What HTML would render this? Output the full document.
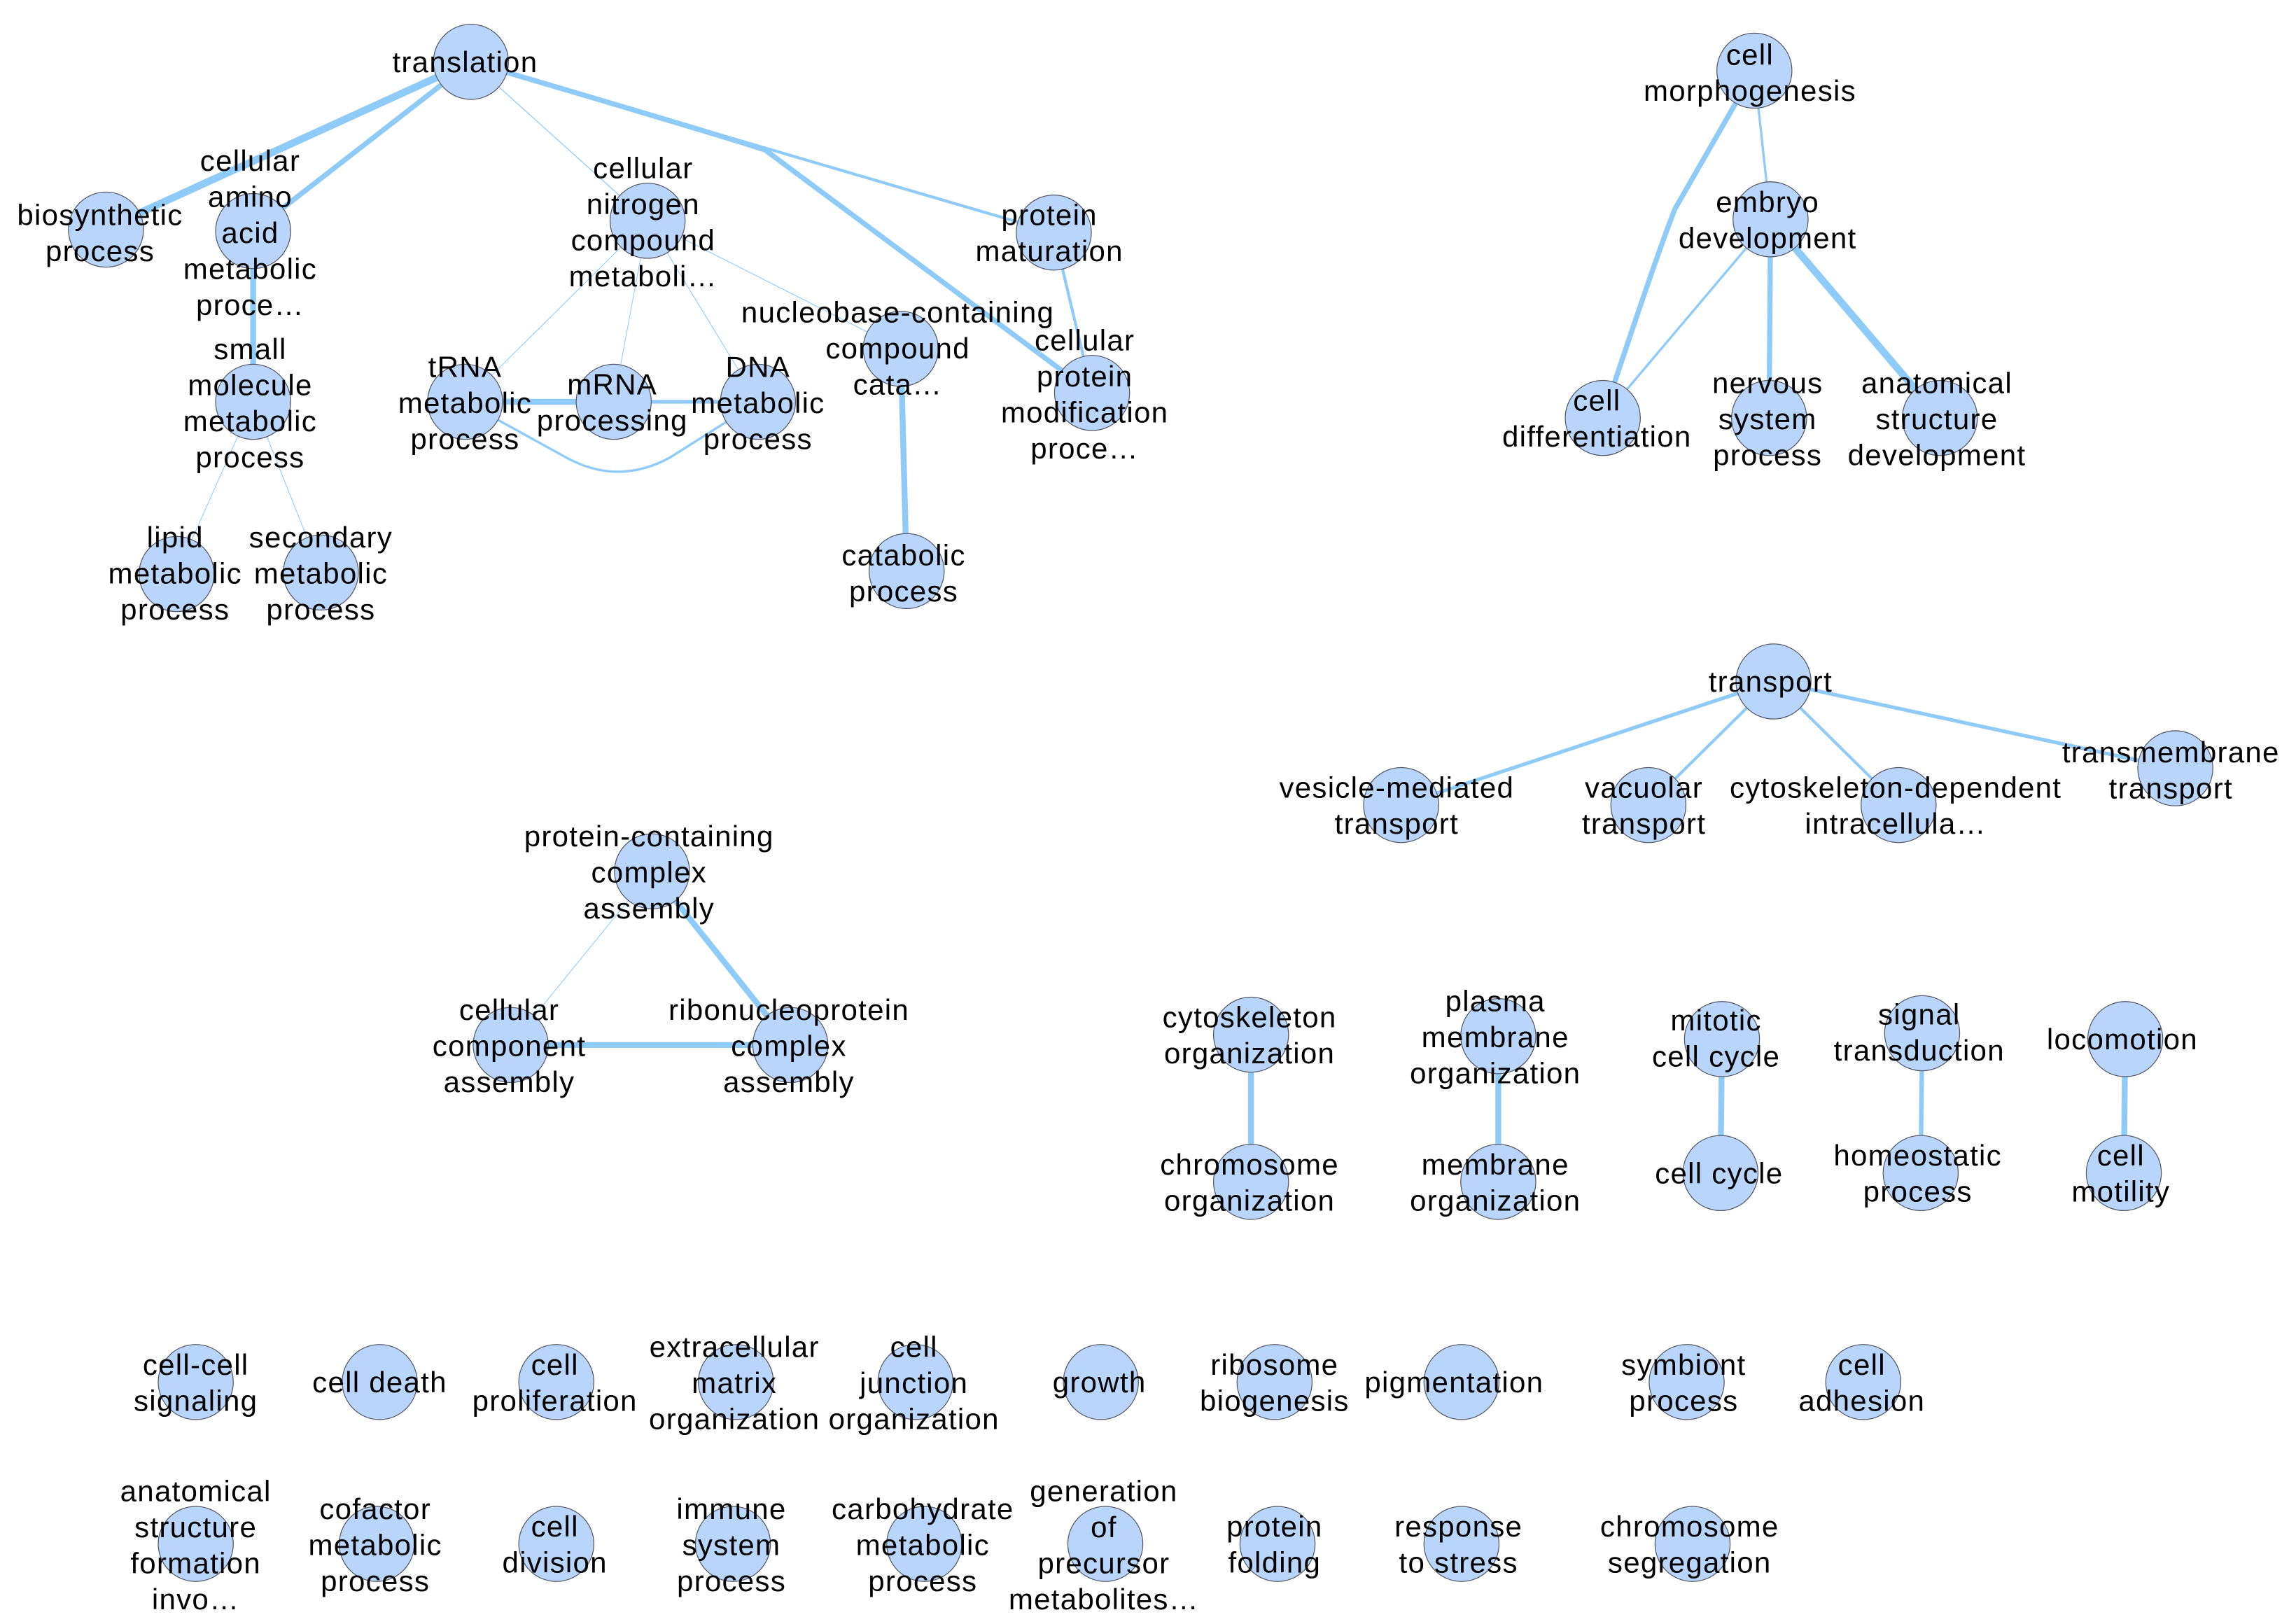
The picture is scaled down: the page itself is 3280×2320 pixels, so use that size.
<!DOCTYPE html>
<html><head><meta charset="utf-8"><style>
html,body{margin:0;padding:0;background:#fff;}
svg{display:block;}
text{font-family:"Liberation Sans",sans-serif;font-size:20px;fill:#000;text-anchor:middle;letter-spacing:0.6px;}
.n{fill:#b9d5fb;stroke:#555a66;stroke-width:0.6;}
.e{stroke:#8ecbf8;fill:none;stroke-linecap:round;}
</style></head><body>
<svg width="3280" height="2320" viewBox="0 0 1560 1103.4" xmlns="http://www.w3.org/2000/svg">
<g class="e">
<line x1="320" y1="42" x2="70" y2="156" stroke-width="5"/>
<line x1="320" y1="42" x2="172" y2="157" stroke-width="3.5"/>
<line x1="320" y1="42" x2="440" y2="150" stroke-width="0.6"/>
<path d="M320 42 Q500 95 520 102 L742 267" stroke-width="3.5"/>
<line x1="320" y1="42" x2="716" y2="158" stroke-width="2"/>
<line x1="716" y1="158" x2="742" y2="267" stroke-width="2"/>
<line x1="172" y1="157" x2="172" y2="273" stroke-width="4"/>
<line x1="172" y1="273" x2="120" y2="390" stroke-width="0.5"/>
<line x1="172" y1="273" x2="218" y2="389" stroke-width="0.5"/>
<line x1="440" y1="150" x2="316" y2="273" stroke-width="0.5"/>
<line x1="440" y1="150" x2="417" y2="273" stroke-width="0.5"/>
<line x1="440" y1="150" x2="515" y2="273" stroke-width="0.5"/>
<line x1="440" y1="150" x2="612" y2="237" stroke-width="0.5"/>
<line x1="316" y1="273" x2="417" y2="273" stroke-width="4"/>
<line x1="417" y1="273" x2="515" y2="273" stroke-width="2.5"/>
<path d="M316 273 L385 311 Q420 330 455 311 L515 273" stroke-width="1.6"/>
<line x1="612" y1="237" x2="616" y2="388" stroke-width="4"/>
<path d="M1192 48 L1138 142 Q1125 175 1089 284" stroke-width="3.5"/>
<line x1="1192" y1="48" x2="1203" y2="149" stroke-width="1.6"/>
<line x1="1203" y1="149" x2="1089" y2="284" stroke-width="1.6"/>
<line x1="1203" y1="149" x2="1202" y2="284" stroke-width="3.5"/>
<line x1="1203" y1="149" x2="1318" y2="284" stroke-width="5"/>
<line x1="1205" y1="463" x2="952" y2="547" stroke-width="2.5"/>
<line x1="1205" y1="463" x2="1120" y2="547" stroke-width="2"/>
<line x1="1205" y1="463" x2="1290" y2="547" stroke-width="2"/>
<line x1="1205" y1="463" x2="1478" y2="522" stroke-width="2.5"/>
<line x1="443" y1="592" x2="347" y2="710" stroke-width="0.5"/>
<line x1="443" y1="592" x2="537" y2="710" stroke-width="4"/>
<line x1="347" y1="710" x2="537" y2="710" stroke-width="4"/>
<line x1="850" y1="703" x2="850" y2="803" stroke-width="4"/>
<line x1="1018" y1="704" x2="1018" y2="803" stroke-width="4"/>
<line x1="1170" y1="706" x2="1169" y2="797" stroke-width="4"/>
<line x1="1306" y1="702" x2="1305" y2="797" stroke-width="3"/>
<line x1="1444" y1="706" x2="1443" y2="797" stroke-width="4"/>
</g>
<g class="n">
<circle cx="320" cy="42" r="25.5"/><circle cx="72" cy="156" r="25.5"/><circle cx="172" cy="157" r="25.5"/>
<circle cx="172" cy="273" r="25.5"/><circle cx="120" cy="390" r="25.5"/><circle cx="218" cy="389" r="25.5"/>
<circle cx="440" cy="150" r="25.5"/><circle cx="316" cy="273" r="25.5"/><circle cx="417" cy="273" r="25.5"/>
<circle cx="515" cy="273" r="25.5"/><circle cx="612" cy="237" r="25.5"/><circle cx="616" cy="388" r="25.5"/>
<circle cx="716" cy="158" r="25.5"/><circle cx="742" cy="267" r="25.5"/>
<circle cx="1192" cy="48" r="25.5"/><circle cx="1203" cy="149" r="25.5"/><circle cx="1089" cy="284" r="25.5"/>
<circle cx="1202" cy="284" r="25.5"/><circle cx="1318" cy="284" r="25.5"/>
<circle cx="1205" cy="463" r="25.5"/><circle cx="952" cy="547" r="25.5"/><circle cx="1120" cy="547" r="25.5"/>
<circle cx="1290" cy="547" r="25.5"/><circle cx="1478" cy="522" r="25.5"/>
<circle cx="443" cy="592" r="25.5"/><circle cx="347" cy="710" r="25.5"/><circle cx="537" cy="710" r="25.5"/>
<circle cx="850" cy="703" r="25.5"/><circle cx="850" cy="803" r="25.5"/><circle cx="1018" cy="704" r="25.5"/>
<circle cx="1018" cy="803" r="25.5"/><circle cx="1170" cy="706" r="25.5"/><circle cx="1169" cy="797" r="25.5"/>
<circle cx="1306" cy="702" r="25.5"/><circle cx="1305" cy="797" r="25.5"/><circle cx="1444" cy="706" r="25.5"/>
<circle cx="1443" cy="797" r="25.5"/>
<circle cx="133" cy="939" r="25.5"/><circle cx="258" cy="939" r="25.5"/><circle cx="378" cy="939" r="25.5"/>
<circle cx="500" cy="939" r="25.5"/><circle cx="622" cy="939" r="25.5"/><circle cx="748" cy="939" r="25.5"/>
<circle cx="866" cy="939" r="25.5"/><circle cx="993" cy="939" r="25.5"/><circle cx="1146" cy="939" r="25.5"/>
<circle cx="1266" cy="939" r="25.5"/>
<circle cx="133" cy="1049" r="25.5"/><circle cx="256" cy="1049" r="25.5"/><circle cx="378" cy="1049" r="25.5"/>
<circle cx="498" cy="1049" r="25.5"/><circle cx="628" cy="1049" r="25.5"/><circle cx="751" cy="1049" r="25.5"/>
<circle cx="868" cy="1049" r="25.5"/><circle cx="993" cy="1049" r="25.5"/><circle cx="1150" cy="1049" r="25.5"/>
</g>
<g>
<text x="316" y="49">translation</text>
<text x="68" y="153">biosynthetic<tspan x="68" dy="24.5">process</tspan></text>
<text x="170" y="116">cellular<tspan x="170" dy="24.5">amino</tspan><tspan x="170" dy="24.5">acid</tspan><tspan x="170" dy="24.5">metabolic</tspan><tspan x="170" dy="24.5">proce…</tspan></text>
<text x="170" y="244">small<tspan x="170" dy="24.5">molecule</tspan><tspan x="170" dy="24.5">metabolic</tspan><tspan x="170" dy="24.5">process</tspan></text>
<text x="119" y="372">lipid<tspan x="119" dy="24.5">metabolic</tspan><tspan x="119" dy="24.5">process</tspan></text>
<text x="218" y="372">secondary<tspan x="218" dy="24.5">metabolic</tspan><tspan x="218" dy="24.5">process</tspan></text>
<text x="437" y="121">cellular<tspan x="437" dy="24.5">nitrogen</tspan><tspan x="437" dy="24.5">compound</tspan><tspan x="437" dy="24.5">metaboli…</tspan></text>
<text x="316" y="256">tRNA<tspan x="316" dy="24.5">metabolic</tspan><tspan x="316" dy="24.5">process</tspan></text>
<text x="416" y="268">mRNA<tspan x="416" dy="24.5">processing</tspan></text>
<text x="515" y="256">DNA<tspan x="515" dy="24.5">metabolic</tspan><tspan x="515" dy="24.5">process</tspan></text>
<text x="610" y="219">nucleobase-containing<tspan x="610" dy="24.5">compound</tspan><tspan x="610" dy="24.5">cata…</tspan></text>
<text x="614" y="384">catabolic<tspan x="614" dy="24.5">process</tspan></text>
<text x="713" y="153">protein<tspan x="713" dy="24.5">maturation</tspan></text>
<text x="737" y="238">cellular<tspan x="737" dy="24.5">protein</tspan><tspan x="737" dy="24.5">modification</tspan><tspan x="737" dy="24.5">proce…</tspan></text>
<text x="1189" y="44">cell<tspan x="1189" dy="24.5">morphogenesis</tspan></text>
<text x="1201" y="144">embryo<tspan x="1201" dy="24.5">development</tspan></text>
<text x="1085" y="279">cell<tspan x="1085" dy="24.5">differentiation</tspan></text>
<text x="1201" y="267">nervous<tspan x="1201" dy="24.5">system</tspan><tspan x="1201" dy="24.5">process</tspan></text>
<text x="1316" y="267">anatomical<tspan x="1316" dy="24.5">structure</tspan><tspan x="1316" dy="24.5">development</tspan></text>
<text x="1203" y="470">transport</text>
<text x="949" y="542">vesicle-mediated<tspan x="949" dy="24.5">transport</tspan></text>
<text x="1117" y="542">vacuolar<tspan x="1117" dy="24.5">transport</tspan></text>
<text x="1288" y="542">cytoskeleton-dependent<tspan x="1288" dy="24.5">intracellula…</tspan></text>
<text x="1475" y="518">transmembrane<tspan x="1475" dy="24.5">transport</tspan></text>
<text x="441" y="575">protein-containing<tspan x="441" dy="24.5">complex</tspan><tspan x="441" dy="24.5">assembly</tspan></text>
<text x="346" y="693">cellular<tspan x="346" dy="24.5">component</tspan><tspan x="346" dy="24.5">assembly</tspan></text>
<text x="536" y="693">ribonucleoprotein<tspan x="536" dy="24.5">complex</tspan><tspan x="536" dy="24.5">assembly</tspan></text>
<text x="849" y="698">cytoskeleton<tspan x="849" dy="24.5">organization</tspan></text>
<text x="849" y="798">chromosome<tspan x="849" dy="24.5">organization</tspan></text>
<text x="1016" y="687">plasma<tspan x="1016" dy="24.5">membrane</tspan><tspan x="1016" dy="24.5">organization</tspan></text>
<text x="1016" y="798">membrane<tspan x="1016" dy="24.5">organization</tspan></text>
<text x="1166" y="700">mitotic<tspan x="1166" dy="24.5">cell cycle</tspan></text>
<text x="1168" y="804">cell cycle</text>
<text x="1304" y="696">signal<tspan x="1304" dy="24.5">transduction</tspan></text>
<text x="1303" y="792">homeostatic<tspan x="1303" dy="24.5">process</tspan></text>
<text x="1442" y="713">locomotion</text>
<text x="1441" y="792">cell<tspan x="1441" dy="24.5">motility</tspan></text>
<text x="133" y="934">cell-cell<tspan x="133" dy="24.5">signaling</tspan></text>
<text x="258" y="946">cell death</text>
<text x="377" y="934">cell<tspan x="377" dy="24.5">proliferation</tspan></text>
<text x="499" y="922">extracellular<tspan x="499" dy="24.5">matrix</tspan><tspan x="499" dy="24.5">organization</tspan></text>
<text x="621" y="922">cell<tspan x="621" dy="24.5">junction</tspan><tspan x="621" dy="24.5">organization</tspan></text>
<text x="747" y="946">growth</text>
<text x="866" y="934">ribosome<tspan x="866" dy="24.5">biogenesis</tspan></text>
<text x="988" y="946">pigmentation</text>
<text x="1144" y="934">symbiont<tspan x="1144" dy="24.5">process</tspan></text>
<text x="1265" y="934">cell<tspan x="1265" dy="24.5">adhesion</tspan></text>
<text x="133" y="1020">anatomical<tspan x="133" dy="24.5">structure</tspan><tspan x="133" dy="24.5">formation</tspan><tspan x="133" dy="24.5">invo…</tspan></text>
<text x="255" y="1032">cofactor<tspan x="255" dy="24.5">metabolic</tspan><tspan x="255" dy="24.5">process</tspan></text>
<text x="377" y="1044">cell<tspan x="377" dy="24.5">division</tspan></text>
<text x="497" y="1032">immune<tspan x="497" dy="24.5">system</tspan><tspan x="497" dy="24.5">process</tspan></text>
<text x="627" y="1032">carbohydrate<tspan x="627" dy="24.5">metabolic</tspan><tspan x="627" dy="24.5">process</tspan></text>
<text x="750" y="1020">generation<tspan x="750" dy="24.5">of</tspan><tspan x="750" dy="24.5">precursor</tspan><tspan x="750" dy="24.5">metabolites…</tspan></text>
<text x="866" y="1044">protein<tspan x="866" dy="24.5">folding</tspan></text>
<text x="991" y="1044">response<tspan x="991" dy="24.5">to stress</tspan></text>
<text x="1148" y="1044">chromosome<tspan x="1148" dy="24.5">segregation</tspan></text>
</g>
</svg>
</body></html>
